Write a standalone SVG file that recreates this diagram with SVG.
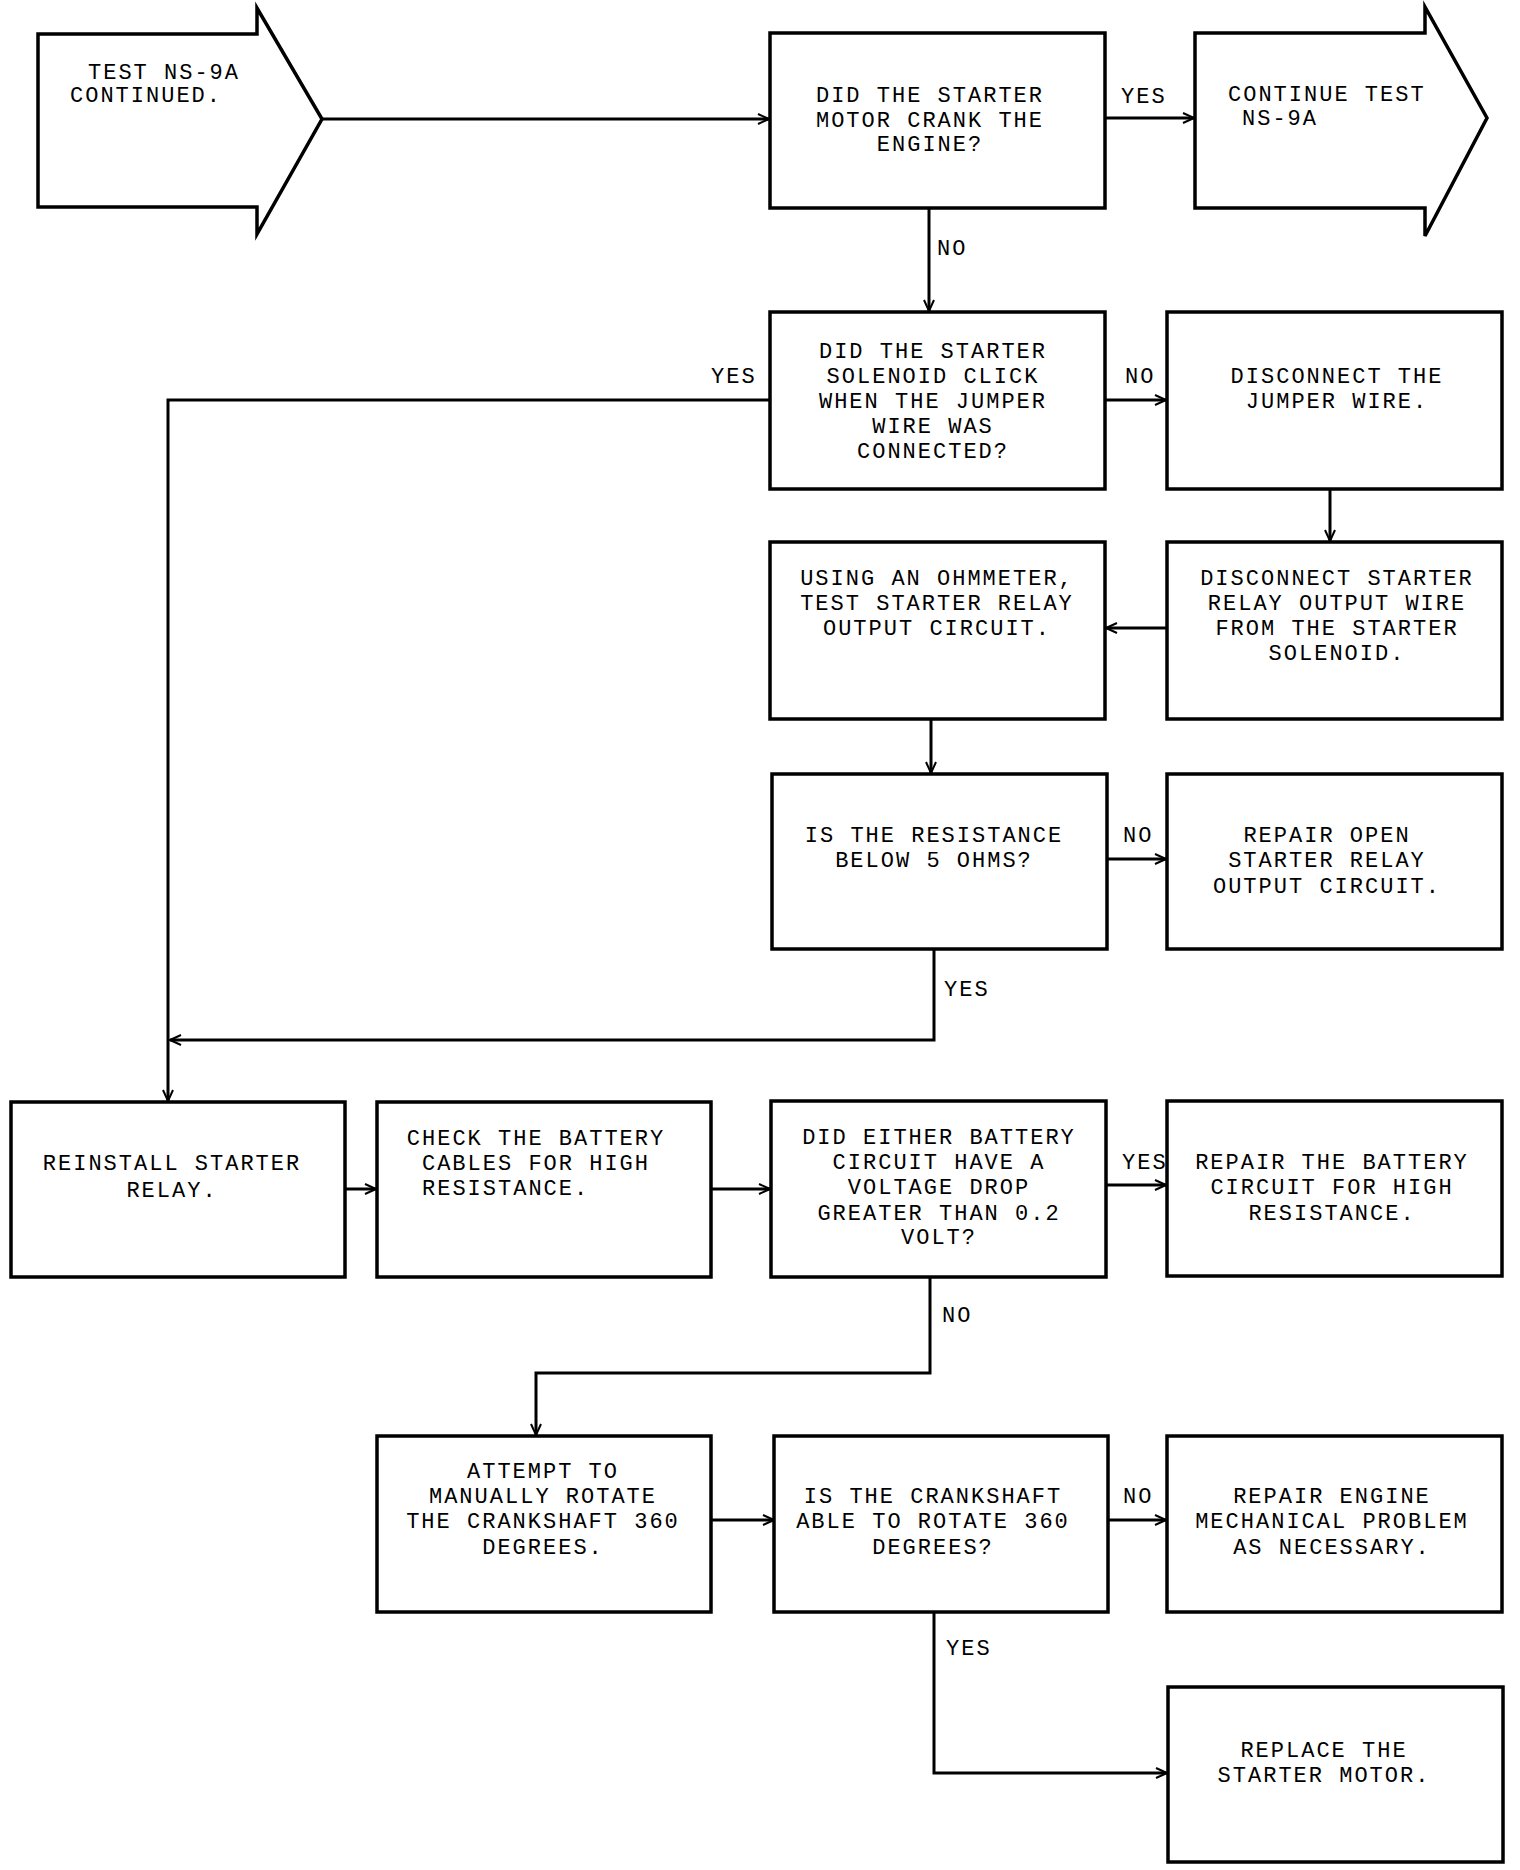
<svg xmlns="http://www.w3.org/2000/svg" width="1520" height="1870" viewBox="0 0 1520 1870">
<style>
.box{fill:#fff;stroke:#000;stroke-width:3.5}
.ln{fill:none;stroke:#000;stroke-width:3}
.t{font-family:"Liberation Mono","DejaVu Sans Mono",monospace;font-size:22px;letter-spacing:2px;fill:#000;text-anchor:middle}
.s{text-anchor:start}
</style>
<defs>
<marker id="ah" markerUnits="userSpaceOnUse" markerWidth="14" markerHeight="12" refX="12" refY="6" orient="auto">
<path d="M1,1 L12,6 L1,11" fill="none" stroke="#000" stroke-width="2"/>
</marker>
</defs>
<rect width="1520" height="1870" fill="#fff"/>
<g id="connectors">
<path class="ln" d="M322,119 H769" marker-end="url(#ah)"/>
<path class="ln" d="M1105,118 H1194" marker-end="url(#ah)"/>
<path class="ln" d="M929,208 V311" marker-end="url(#ah)"/>
<path class="ln" d="M770,400 H168 V1101" marker-end="url(#ah)"/>
<path class="ln" d="M1105,400 H1166" marker-end="url(#ah)"/>
<path class="ln" d="M1330,489 V541" marker-end="url(#ah)"/>
<path class="ln" d="M1167,628 H1106" marker-end="url(#ah)"/>
<path class="ln" d="M931,719 V773" marker-end="url(#ah)"/>
<path class="ln" d="M1107,859 H1166" marker-end="url(#ah)"/>
<path class="ln" d="M934,949 V1040 H170" marker-end="url(#ah)"/>
<path class="ln" d="M345,1189 H376" marker-end="url(#ah)"/>
<path class="ln" d="M711,1189 H770" marker-end="url(#ah)"/>
<path class="ln" d="M1106,1185 H1166" marker-end="url(#ah)"/>
<path class="ln" d="M930,1277 V1373 H536 V1435" marker-end="url(#ah)"/>
<path class="ln" d="M711,1520 H774" marker-end="url(#ah)"/>
<path class="ln" d="M1108,1520 H1166" marker-end="url(#ah)"/>
<path class="ln" d="M934,1612 V1773 H1167" marker-end="url(#ah)"/>
<text class="t s" x="1121" y="103">YES</text>
<text class="t s" x="937" y="255">NO</text>
<text class="t s" x="711" y="383">YES</text>
<text class="t s" x="1125" y="383">NO</text>
<text class="t s" x="1123" y="842">NO</text>
<text class="t s" x="944" y="996">YES</text>
<text class="t s" x="1122" y="1169">YES</text>
<text class="t s" x="942" y="1322">NO</text>
<text class="t s" x="1123" y="1503">NO</text>
<text class="t s" x="946" y="1655">YES</text>
</g>
<g id="start">
<polygon class="box" points="38,34 257,34 257,8 322,119 257,234 257,207 38,207"/>
<text class="t s" x="88" y="79">TEST NS-9A</text>
<text class="t s" x="70" y="102">CONTINUED.</text>
</g>
<g id="q-crank">
<rect class="box" x="770" y="33" width="335" height="175"/>
<text class="t" x="930" y="102">DID THE STARTER</text>
<text class="t" x="930" y="127">MOTOR CRANK THE</text>
<text class="t" x="930" y="151">ENGINE?</text>
</g>
<g id="continue">
<polygon class="box" points="1195,33 1425,33 1425,7 1487,118 1425,236 1425,208 1195,208"/>
<text class="t s" x="1228" y="101">CONTINUE TEST</text>
<text class="t s" x="1242" y="125">NS-9A</text>
</g>
<g id="q-solenoid">
<rect class="box" x="770" y="312" width="335" height="177"/>
<text class="t" x="933" y="358">DID THE STARTER</text>
<text class="t" x="933" y="383">SOLENOID CLICK</text>
<text class="t" x="933" y="408">WHEN THE JUMPER</text>
<text class="t" x="933" y="433">WIRE WAS</text>
<text class="t" x="933" y="458">CONNECTED?</text>
</g>
<g id="disconnect-jumper">
<rect class="box" x="1167" y="312" width="335" height="177"/>
<text class="t" x="1337" y="383">DISCONNECT THE</text>
<text class="t" x="1337" y="408">JUMPER WIRE.</text>
</g>
<g id="disconnect-relay">
<rect class="box" x="1167" y="542" width="335" height="177"/>
<text class="t" x="1337" y="585">DISCONNECT STARTER</text>
<text class="t" x="1337" y="610">RELAY OUTPUT WIRE</text>
<text class="t" x="1337" y="635">FROM THE STARTER</text>
<text class="t" x="1337" y="660">SOLENOID.</text>
</g>
<g id="ohmmeter">
<rect class="box" x="770" y="542" width="335" height="177"/>
<text class="t" x="937" y="585">USING AN OHMMETER,</text>
<text class="t" x="937" y="610">TEST STARTER RELAY</text>
<text class="t" x="937" y="635">OUTPUT CIRCUIT.</text>
</g>
<g id="q-resistance">
<rect class="box" x="772" y="774" width="335" height="175"/>
<text class="t" x="934" y="842">IS THE RESISTANCE</text>
<text class="t" x="934" y="867">BELOW 5 OHMS?</text>
</g>
<g id="repair-open">
<rect class="box" x="1167" y="774" width="335" height="175"/>
<text class="t" x="1327" y="842">REPAIR OPEN</text>
<text class="t" x="1327" y="867">STARTER RELAY</text>
<text class="t" x="1327" y="893">OUTPUT CIRCUIT.</text>
</g>
<g id="reinstall">
<rect class="box" x="11" y="1102" width="334" height="175"/>
<text class="t" x="172" y="1170">REINSTALL STARTER</text>
<text class="t" x="172" y="1197">RELAY.</text>
</g>
<g id="check-cables">
<rect class="box" x="377" y="1102" width="334" height="175"/>
<text class="t" x="536" y="1145">CHECK THE BATTERY</text>
<text class="t" x="536" y="1170">CABLES FOR HIGH</text>
<text class="t s" x="422" y="1195">RESISTANCE.</text>
</g>
<g id="q-voltage">
<rect class="box" x="771" y="1101" width="335" height="176"/>
<text class="t" x="939" y="1144">DID EITHER BATTERY</text>
<text class="t" x="939" y="1169">CIRCUIT HAVE A</text>
<text class="t" x="939" y="1194">VOLTAGE DROP</text>
<text class="t" x="939" y="1220">GREATER THAN 0.2</text>
<text class="t" x="939" y="1244">VOLT?</text>
</g>
<g id="repair-battery">
<rect class="box" x="1167" y="1101" width="335" height="175"/>
<text class="t" x="1332" y="1169">REPAIR THE BATTERY</text>
<text class="t" x="1332" y="1194">CIRCUIT FOR HIGH</text>
<text class="t" x="1332" y="1220">RESISTANCE.</text>
</g>
<g id="rotate">
<rect class="box" x="377" y="1436" width="334" height="176"/>
<text class="t" x="543" y="1478">ATTEMPT TO</text>
<text class="t" x="543" y="1503">MANUALLY ROTATE</text>
<text class="t" x="543" y="1528">THE CRANKSHAFT 360</text>
<text class="t" x="543" y="1554">DEGREES.</text>
</g>
<g id="q-crankshaft">
<rect class="box" x="774" y="1436" width="334" height="176"/>
<text class="t" x="933" y="1503">IS THE CRANKSHAFT</text>
<text class="t" x="933" y="1528">ABLE TO ROTATE 360</text>
<text class="t" x="933" y="1554">DEGREES?</text>
</g>
<g id="repair-engine">
<rect class="box" x="1167" y="1436" width="335" height="176"/>
<text class="t" x="1332" y="1503">REPAIR ENGINE</text>
<text class="t" x="1332" y="1528">MECHANICAL PROBLEM</text>
<text class="t" x="1332" y="1554">AS NECESSARY.</text>
</g>
<g id="replace-motor">
<rect class="box" x="1168" y="1687" width="335" height="175"/>
<text class="t" x="1324" y="1757">REPLACE THE</text>
<text class="t" x="1324" y="1782">STARTER MOTOR.</text>
</g>
</svg>
